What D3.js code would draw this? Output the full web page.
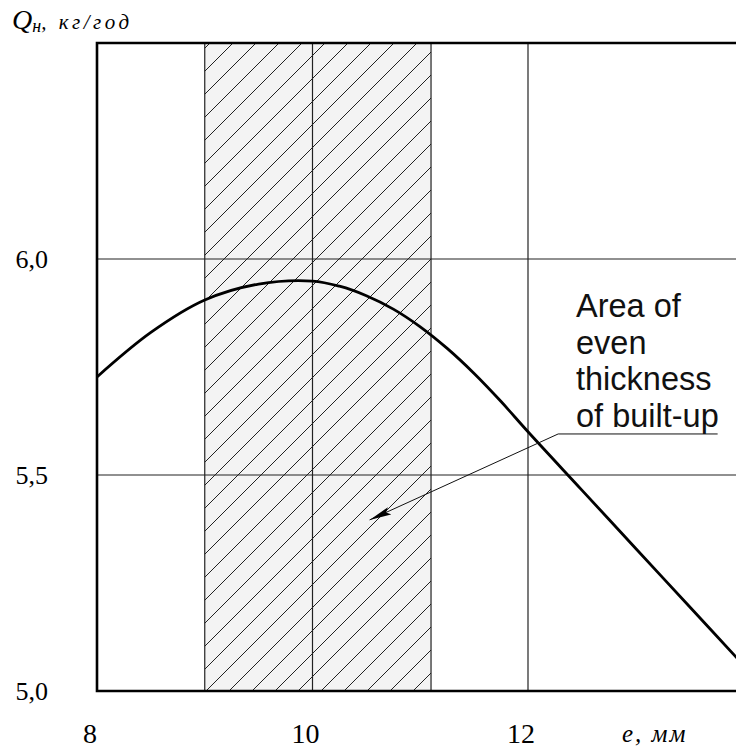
<!DOCTYPE html>
<html>
<head>
<meta charset="UTF-8">
<script src="https://d3js.org/d3.v7.min.js"></script>
<style>
  body { margin: 0; background: #fff; }
  svg { display: block; }
</style>
</head>
<body>
<svg></svg>
<script>
  let width = 736, height = 749;

  // data
  let thickness = [8.0, 8.5, 9.0, 9.5, 10.0, 10.25, 10.5, 10.75, 11.0, 11.25, 11.5, 11.75, 12.0, 12.5, 13.0, 13.5, 14.0];
  let consumption = [5.727, 5.83, 5.905, 5.942, 5.949, 5.937, 5.915, 5.884, 5.843, 5.793, 5.735, 5.67, 5.60, 5.465, 5.33, 5.195, 5.06];
  let xTicks = [8, 10, 12];
  let yTicks = [5.0, 5.5, 6.0];
  let yGrid = [5.5, 6.0];
  let xGrid = [10, 12];
  let band = [9.0, 11.1];
  let labelLines = ["Area of", "even", "thickness", "of built-up"];

  let svg = d3.select("svg")
    .attr("width", width)
    .attr("height", height);

  let x = d3.scaleLinear().domain([8, 14]).range([97, 743.5]);
  let y = d3.scaleLinear().domain([5.0, 6.5]).range([691, 43]);

  // hatch pattern
  let defs = svg.append("defs");
  let pat = defs.append("pattern")
    .attr("id", "hatch")
    .attr("patternUnits", "userSpaceOnUse")
    .attr("width", 23).attr("height", 23);
  pat.append("rect").attr("width", 23).attr("height", 23).attr("fill", "#f3f3f3");
  pat.append("path")
    .attr("d", "M0,23 L23,0 M-4,4 L4,-4 M19,27 L27,19")
    .attr("stroke", "#222")
    .attr("stroke-width", 1);

  svg.append("rect")
    .attr("x", x(band[0]))
    .attr("y", y(6.5))
    .attr("width", x(band[1]) - x(band[0]))
    .attr("height", y(5.0) - y(6.5))
    .attr("fill", "url(#hatch)")
    .attr("stroke", "#222")
    .attr("stroke-width", 1.2);

  // grid
  svg.append("g")
    .selectAll("line")
    .data(yGrid)
    .join("line")
    .attr("x1", x(8)).attr("x2", width)
    .attr("y1", d => y(d)).attr("y2", d => y(d))
    .attr("stroke", "#222").attr("stroke-width", 1.2);

  svg.append("g")
    .selectAll("line")
    .data(xGrid)
    .join("line")
    .attr("x1", d => x(d)).attr("x2", d => x(d))
    .attr("y1", y(6.5)).attr("y2", y(5.0))
    .attr("stroke", "#222").attr("stroke-width", 1.2);

  // frame: left, bottom, top
  svg.append("path")
    .attr("d", "M" + width + "," + y(6.5) + " L" + x(8) + "," + y(6.5) + " L" + x(8) + "," + y(5.0) + " L" + width + "," + y(5.0))
    .attr("fill", "none")
    .attr("stroke", "#000")
    .attr("stroke-width", 2.6);

  // curve
  let line = d3.line()
    .x((d, i) => x(thickness[i]))
    .y(d => y(d))
    .curve(d3.curveCatmullRom.alpha(0.5));

  svg.append("path")
    .datum(consumption)
    .attr("d", line)
    .attr("fill", "none")
    .attr("stroke", "#000")
    .attr("stroke-width", 2.8);

  // tick labels
  svg.append("g")
    .selectAll("text")
    .data(yTicks)
    .join("text")
    .attr("x", 48)
    .attr("y", d => y(d) + 9)
    .attr("text-anchor", "end")
    .style("font-family", "Liberation Serif")
    .style("font-size", "26px")
    .text(d => d3.format(".1f")(d).replace(".", ","));

  svg.append("g")
    .selectAll("text")
    .data(xTicks)
    .join("text")
    .attr("x", d => x(d) - 7)
    .attr("y", 743)
    .attr("text-anchor", "middle")
    .style("font-family", "Liberation Serif")
    .style("font-size", "28px")
    .text(d => d);

  svg.append("text")
    .attr("x", 622)
    .attr("y", 742)
    .style("font-family", "Liberation Serif")
    .style("font-style", "italic")
    .style("font-size", "25px")
    .style("letter-spacing", "2px")
    .text("e, мм");

  // y title
  let title = svg.append("text")
    .attr("x", 12)
    .attr("y", 29)
    .style("font-family", "Liberation Serif")
    .style("font-style", "italic");
  title.append("tspan").style("font-size", "28px").text("Q");
  title.append("tspan").style("font-size", "18px").attr("dy", 3).text("н");
  title.append("tspan").style("font-size", "21px").attr("dy", -3)
    .style("letter-spacing", "3.5px").text(", кг/год");

  // annotation
  svg.append("g")
    .selectAll("text")
    .data(labelLines)
    .join("text")
    .attr("x", 576)
    .attr("y", (d, i) => 317 + i * 36.7)
    .style("font-family", "Liberation Sans")
    .style("font-size", "32.5px")
    .style("fill", "#111")
    .text(d => d);

  defs.append("marker")
    .attr("id", "arrow")
    .attr("viewBox", "0 0 22 8")
    .attr("refX", 22).attr("refY", 4)
    .attr("markerWidth", 22).attr("markerHeight", 8)
    .attr("markerUnits", "userSpaceOnUse")
    .attr("orient", "auto")
    .append("path")
    .attr("d", "M0,0 L22,4 L0,8 L4,4 Z")
    .attr("fill", "#000");

  svg.append("path")
    .attr("d", "M" + x(13.76) + "," + y(5.595) + " L" + x(12.28) + "," + y(5.595) + " L" + x(10.53) + "," + y(5.396))
    .attr("fill", "none")
    .attr("stroke", "#111")
    .attr("stroke-width", 1)
    .attr("marker-end", "url(#arrow)");
</script>
</body>
</html>
